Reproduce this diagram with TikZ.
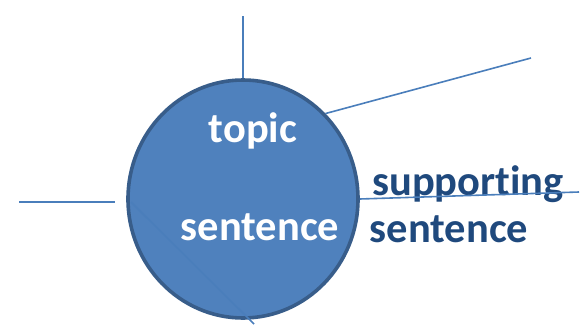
\documentclass[tikz,border=0pt]{standalone}
\usepackage{fontspec}
\setmainfont[RawFeature={-liga;-clig}]{Carlito}
\usepackage{tikz}
\usetikzlibrary{shapes.geometric}

\definecolor{fillblue}{HTML}{4F81BD}
\definecolor{rimblue}{HTML}{385D8A}
\definecolor{lineblue}{HTML}{4A7EBB}
\definecolor{textblue}{HTML}{1F497D}

\begin{document}
\begin{tikzpicture}[x=1pt,y=-1pt,
	spoke/.style={draw=lineblue,line width=1.6pt},
	word/.style={font=\fontsize{42.5}{42.5}\selectfont\bfseries,inner sep=0pt,anchor=base}]
	\useasboundingbox (0,0) rectangle (586,324);

	% circle
	\node[ellipse,draw=rimblue,fill=fillblue,line width=3.6pt,
		minimum width=230pt,minimum height=238pt] (circ) at (243,199) {};

	% free ends
	\coordinate (top) at (243,16);
	\coordinate (ur) at (531,58);
	\coordinate (l1) at (19,202);
	\coordinate (l2) at (115,202);
	\coordinate (r) at (579,192);
	\coordinate (d1) at (131,202);
	\coordinate (d2) at (254,324);

	% lines
	\draw[spoke] (circ.north) -- (top);
	\draw[spoke] (circ.46) -- (ur);
	\draw[spoke] (l1) -- (l2);
	\draw[spoke] (d1) -- (d2);

	% words
	\node[word,white] (t1) at (253,142) {topic};
	\node[word,white] (t2) at (260,240) {sentence};
	\node[word,textblue] (s1) at (468,195) {supporting};
	\node[word,textblue] (s2) at (449,242) {sentence};

	\draw[spoke] (circ.east) -- (r);
\end{tikzpicture}
\end{document}
